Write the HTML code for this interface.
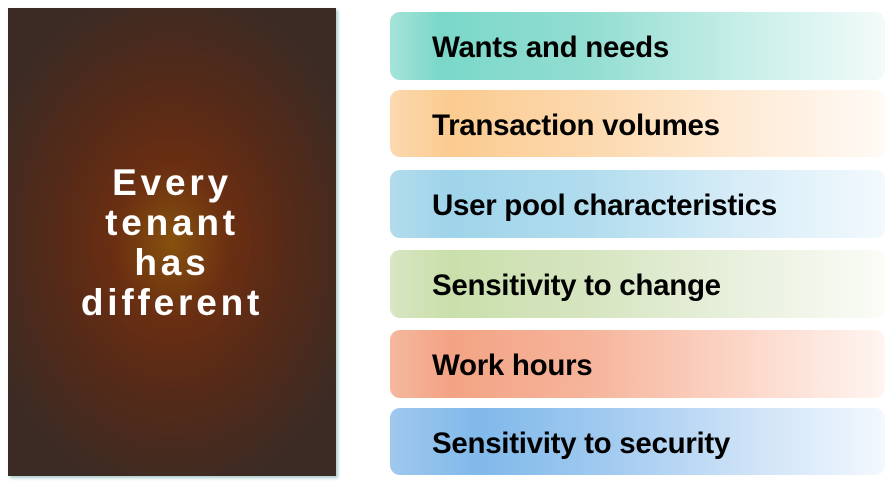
<!DOCTYPE html>
<html><head><style>
body{margin:0;width:896px;height:486px;background:#fff;position:relative;overflow:hidden;font-family:"Liberation Sans",sans-serif}
.panel{position:absolute;left:8px;top:8px;width:328px;height:468px;background:radial-gradient(ellipse 60% 55% at 50% 50%,#86510e 0%,#6a2e12 30%,#552a18 60%,#3c2b24 100%);box-shadow:2px 2px 3px #a8cccc}
.ptxt{position:absolute;left:0;width:100%;top:155px;text-align:center;color:#fff;font-weight:bold;font-size:37px;line-height:40px;letter-spacing:3.8px}
.box{position:absolute;left:390px;width:495px;height:68px;border-radius:10px}
.box span{position:absolute;left:42px;top:2px;line-height:68px;font-weight:bold;font-size:29.5px;color:#000;letter-spacing:-0.3px}
</style></head><body>
<div class="panel"><div class="ptxt">Every<br>tenant<br>has<br>different</div></div>
<div class="box" style="top:12px;background:linear-gradient(90deg,#a6e3d8 0%,#7ad8c9 10%,#92ddd1 40%,#c5eee7 70%,#f3fbfa 100%)"><span>Wants and needs</span></div>
<div class="box" style="top:90px;height:67px;background:linear-gradient(90deg,#fbd9b0 0%,#fbcb90 12%,#fcd8ad 40%,#feead4 70%,#fffaf5 100%)"><span style="line-height:67px">Transaction volumes</span></div>
<div class="box" style="top:170px;background:linear-gradient(90deg,#b2dced 0%,#9fd4ea 12%,#b1dcee 40%,#d6ecf7 70%,#f2f9fd 100%)"><span>User pool characteristics</span></div>
<div class="box" style="top:250px;background:linear-gradient(90deg,#d8e6c3 0%,#c9dfab 12%,#d6e5c0 40%,#e8f0dd 70%,#fafcf6 100%)"><span>Sensitivity to change</span></div>
<div class="box" style="top:330px;background:linear-gradient(90deg,#f5b89f 0%,#f3a384 12%,#f6b49b 40%,#fbd5c6 70%,#fff5f1 100%)"><span>Work hours</span></div>
<div class="box" style="top:408px;height:67px;background:linear-gradient(90deg,#9fc8ee 0%,#80b9ea 18%,#a3cbf0 45%,#cde2f7 72%,#f3f8fe 100%)"><span style="line-height:67px">Sensitivity to security</span></div>
</body></html>
